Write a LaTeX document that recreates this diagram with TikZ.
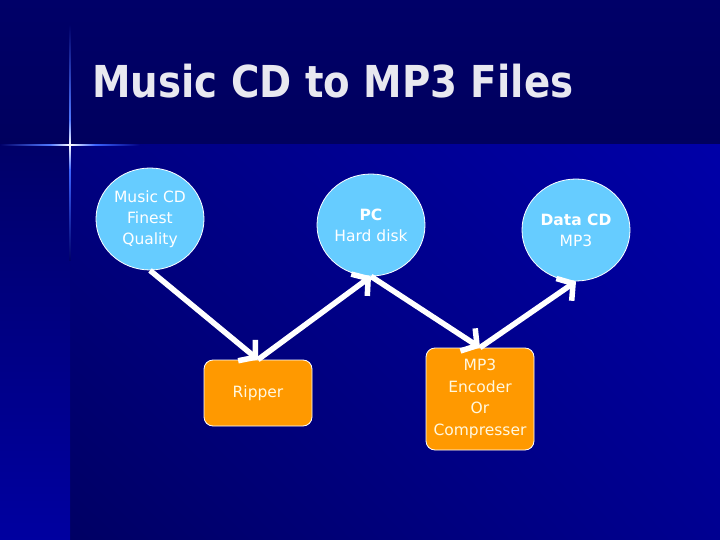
\documentclass[tikz,border=0pt]{standalone}
\usepackage{fontspec}
\setmainfont{DejaVu Sans}
\usetikzlibrary{shapes.geometric,arrows.meta,shadings}
\definecolor{bgtop}{HTML}{000068}
\definecolor{bgtopb}{HTML}{00005E}
\definecolor{mainul}{HTML}{000080}
\definecolor{mainur}{HTML}{0000A8}
\definecolor{mainll}{HTML}{000064}
\definecolor{mainlr}{HTML}{000091}
\definecolor{stript}{HTML}{000069}
\definecolor{stripb}{HTML}{0000A0}
\definecolor{sparkA}{HTML}{5078FF}
\definecolor{sparkB}{HTML}{3C64FF}
\definecolor{circfill}{HTML}{66CCFF}
\definecolor{boxfill}{HTML}{FF9900}
\definecolor{titlecol}{HTML}{E8E8F0}
\definecolor{boxtext}{HTML}{FFF8E0}
\begin{document}
\begin{tikzpicture}[x=1pt,y=1pt,
  disc/.style={ellipse,fill=circfill,draw=white,line width=0.8pt,minimum width=108pt,minimum height=102pt,inner sep=0pt,text=white,align=center,font=\fontsize{15.5}{21}\selectfont},
  procbox/.style={rectangle,rounded corners=9pt,fill=boxfill,draw=white,line width=0.8pt,minimum width=108pt,inner sep=0pt,text=boxtext,align=center,font=\fontsize{15.5}{21.5}\selectfont},
  flow/.style={white,line width=5.5pt,-{Straight Barb[length=11pt,width=27pt]}}]
\useasboundingbox (0,0) rectangle (720,-540);
% background
\shade[top color=bgtop,bottom color=bgtopb] (0,0) rectangle (720,-145);
\shade[upper left=mainul,upper right=mainur,lower left=mainll,lower right=mainlr] (70,-145) rectangle (720,-540);
\shade[top color=stript,bottom color=stripb] (0,-145) rectangle (70,-540);
% sparkle
\shade[left color=bgtop,right color=sparkA] (0,-144.2) rectangle (50,-145.8);
\shade[left color=sparkA,right color=white] (50,-144.2) rectangle (70,-145.8);
\shade[left color=white,right color=sparkB] (70,-144.2) rectangle (95,-145.8);
\shade[left color=sparkB,right color=mainul] (95,-144.2) rectangle (140,-145.8);
\shade[top color=bgtop,bottom color=sparkA] (69.2,-25) rectangle (70.8,-120);
\shade[top color=sparkA,bottom color=white] (69.2,-120) rectangle (70.8,-145);
\shade[top color=white,bottom color=sparkB] (69.2,-145) rectangle (70.8,-170);
\shade[top color=sparkB,bottom color=stript] (69.2,-170) rectangle (70.8,-260);
% title
\node[anchor=base west,inner sep=0pt,text=titlecol,font=\fontsize{44}{50}\selectfont\bfseries] (title) at (92,-98) {\scalebox{0.88}[1]{Music CD to MP3 Files}};
% nodes
\node[disc] (cd) at (150,-219) {Music CD\\Finest\\Quality};
\node[disc] (pc) at (371,-225) {\textbf{PC}\\Hard disk};
\node[disc] (data) at (576,-230) {\textbf{Data CD}\\MP3};
\node[procbox,minimum height=66pt] (rip) at (258,-393) {\raisebox{3pt}{Ripper}};
\node[procbox,minimum height=102pt] (enc) at (480,-399) {MP3\\Encoder\\Or\\Compresser};
% connectors
\draw[flow] (cd.south) -- (rip.north);
\draw[flow] (rip.north) -- (pc.south);
\draw[flow] (pc.south) -- (enc.north);
\draw[flow] (enc.north) -- (data.south);
\end{tikzpicture}
\end{document}
